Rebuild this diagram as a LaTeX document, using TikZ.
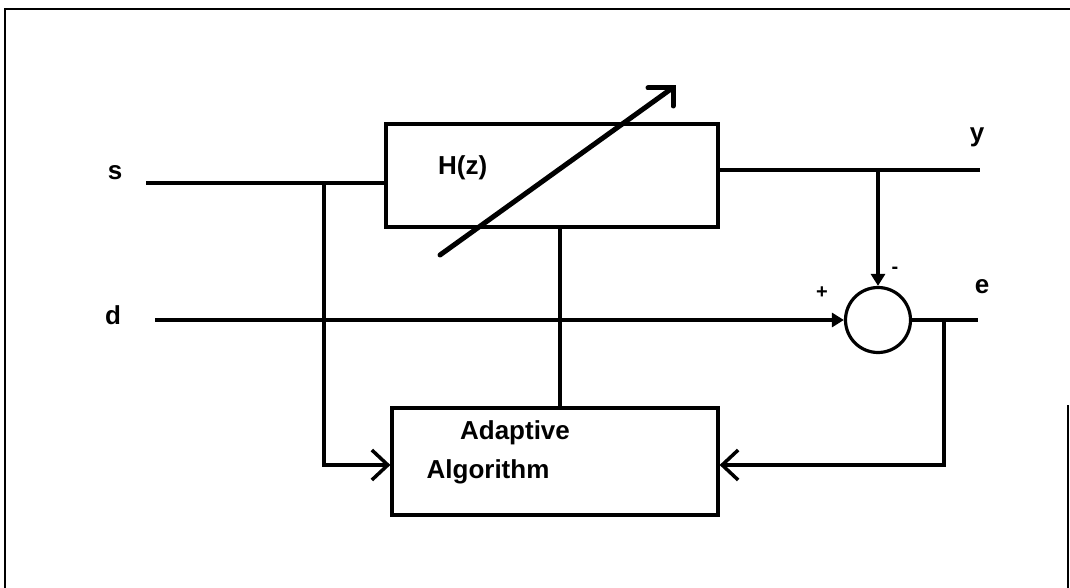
\documentclass[tikz,border=0pt]{standalone}
\usepackage{fontspec}
\setmainfont{Liberation Sans}
\usetikzlibrary{arrows.meta}
\begin{document}
\begin{tikzpicture}[x=1pt,y=-1pt,
  wire/.style={line width=3.2pt},
  blk/.style={draw,line width=3.2pt,inner sep=0pt},
  lbl/.style={font=\fontsize{26}{28}\selectfont\bfseries,inner sep=0pt},
  sgn/.style={font=\fontsize{20}{22}\selectfont\bfseries,inner sep=0pt},
  barb/.style={-{Straight Barb[length=16pt,width=30pt,line width=3.5pt]}},
  tip/.style={-{Triangle[length=12pt,width=14pt]}},
  adj/.style={line width=5pt,line cap=round,line join=miter}]
\useasboundingbox (0,0) rectangle (1070,588);
% frame
\draw[line width=2.5pt] (5,588) -- (5,9) -- (1070,9);
\draw[line width=1.5pt] (1068,405) -- (1068,588);
% blocks
\node[blk,minimum width=332pt,minimum height=103pt] (H) at (552,175.5) {};
\node[lbl,anchor=west] (Ht) at (438,168) {H(z)};
\node[blk,minimum width=326pt,minimum height=107pt] (A) at (555,461.5) {};
\node[lbl] (At1) at (515,433) {Adaptive};
\node[lbl] (At2) at (488,472) {Algorithm};
\node[circle,draw,line width=3.2pt,minimum size=65pt,inner sep=0pt] (S) at (878,320) {};
% labels
\node[lbl] (ls) at (115,173) {s};
\node[lbl] (ld) at (113,315) {d};
\node[lbl] (ly) at (977,137) {y};
\node[lbl] (le) at (982,287) {e};
\node[sgn] (lp) at (822,293) {+};
\node[sgn] (lm) at (895,270) {-};
% coordinates
\coordinate (sIn) at (146,183);
\coordinate (sJ) at (324,183);
\coordinate (sK) at (324,465);
\coordinate (yOut) at (980,170);
\coordinate (yJ) at (878,170);
\coordinate (dIn) at (155,320);
\coordinate (eOut) at (978,320);
\coordinate (eJ) at (944,320);
\coordinate (eK) at (944,465);
\coordinate (mid) at (560,300);
% wires
\draw[wire] (sIn) -- (sIn -| H.west);
\draw[wire,barb] (sJ) -- (sK) -- (sK -| A.west);
\draw[wire] (yOut -| H.east) -- (yOut);
\draw[wire,tip] (yJ) -- (yJ |- S.north);
\draw[wire,tip] (dIn) -- (S.west);
\draw[wire] (S.east) -- (eOut);
\draw[wire,barb] (eJ) -- (eK) -- (eK -| A.east);
\draw[wire] (H.south -| mid) -- (A.north -| mid);
% adjustable arrow
\draw[adj] (440,255) -- (671,89);
\draw[adj] (648,88) -- (673,88) -- (673,106);
\end{tikzpicture}
\end{document}
